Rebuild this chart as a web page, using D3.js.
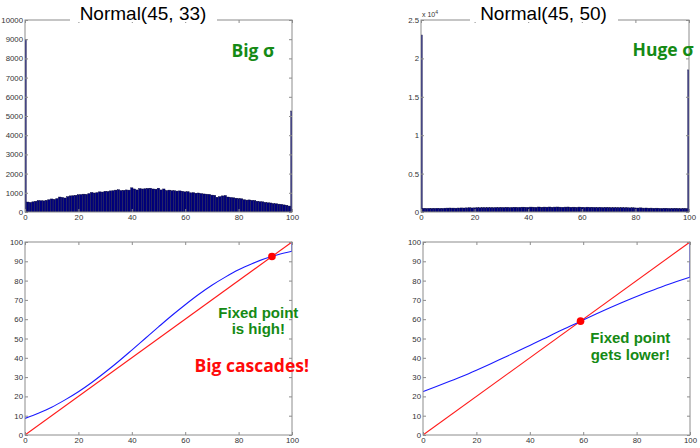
<!DOCTYPE html>
<html>
<head>
<meta charset="utf-8">
<script src="https://cdn.jsdelivr.net/npm/d3@7"></script>
<style>
  html, body { margin: 0; padding: 0; background: #fff; }
  svg { display: block; }
</style>
</head>
<body>
<svg id="chart" width="700" height="448"></svg>
<script>
// ---------------- data ----------------
const binCenters = d3.range(0, 101);           // histogram bins 0..100
const histLeft = [9000,
  520,500,530,560,600,590,580,610,640,680,
  660,700,780,760,730,800,840,850,870,900,
  910,930,920,960,1020,990,1010,1050,1040,1080,
  1070,1100,1110,1140,1160,1120,1130,1150,1140,1260,
  1200,1150,1220,1200,1210,1230,1240,1200,1190,1240,
  1150,1200,1120,1140,1110,1110,1090,1100,1080,1050,
  1060,1000,1010,980,990,960,940,930,920,880,
  870,770,800,840,860,780,760,740,720,700,
  690,640,620,630,610,600,560,540,530,500,
  480,470,440,430,410,400,370,350,310,
  5260];
const histRight = [23050,
  480,470,480,470,480,490,470,480,500,510,
  520,510,500,520,530,520,540,560,530,540,
  560,550,570,560,580,570,560,590,580,600,
  590,610,580,600,620,600,610,630,620,600,
  640,630,610,650,620,640,630,650,620,640,
  650,630,620,640,650,620,630,610,640,620,
  600,630,610,620,600,590,610,580,600,590,
  570,580,570,560,580,550,560,540,550,530,
  520,540,510,520,500,510,490,500,480,470,
  490,480,460,470,480,460,450,470,460,
  18500];
const curveX = d3.range(0, 101, 5);
const curveLeft  = [8.6,11.3,14.4,18.2,22.4,27.2,32.5,38.1,44.0,50.0,56.0,61.9,67.5,72.8,77.6,81.8,85.6,88.7,91.4,93.5,95.2];
const curveRight = [22.5,25.1,27.8,30.6,33.6,36.7,39.9,43.1,46.4,49.7,53.1,56.3,59.6,62.8,65.9,68.9,71.8,74.5,77.1,79.5,81.8];
const diagonal = [[0, 0], [100, 100]];
const fixedLeft = [92.5, 92.5];
const fixedRight = [59, 59];
const xTicks = [0, 20, 40, 60, 80, 100];
const yTicksHistLeft = d3.range(0, 10001, 1000);
const yTicksHistRight = [0, 5000, 10000, 15000, 20000, 25000];
const yTickLabelsHistRight = ["0", "0.5", "1", "1.5", "2", "2.5"];
const yTicksCurve = d3.range(0, 101, 10);
const titles = ["Normal(45, 33)", "Normal(45, 50)"];

// ---------------- drawing ----------------
const svg = d3.select("#chart");
const BOX = "#8c8c8c";
const LABEL = "#333";
const TICKFONT = "Liberation Sans, Arial, sans-serif";

let clipId = 0;
function panel(o) {
  const g = svg.append("g");
  const x = d3.scaleLinear().domain([0, 100]).range([o.left, o.right]);
  const y = d3.scaleLinear().domain(o.yDomain).range([o.bottom, o.top]);
  const id = "clip" + (clipId++);
  svg.append("clipPath").attr("id", id).append("rect")
    .attr("x", o.left).attr("y", o.top - 1)
    .attr("width", o.right - o.left).attr("height", o.bottom - o.top + 1);
  const content = g.append("g").attr("clip-path", `url(#${id})`);
  g.append("rect").attr("x", o.left).attr("y", o.top)
    .attr("width", o.right - o.left).attr("height", o.bottom - o.top)
    .attr("fill", "none").attr("stroke", BOX).attr("stroke-width", 1);

  const styleAxis = (sel) => {
    sel.select(".domain").remove();
    sel.selectAll(".tick line").attr("stroke", BOX);
    sel.selectAll(".tick text").attr("fill", LABEL)
      .style("font-family", TICKFONT).style("font-size", "7.8px");
  };
  g.append("g").attr("transform", `translate(0,${o.bottom})`)
    .call(d3.axisBottom(x).tickValues(xTicks).tickSizeInner(-3).tickSizeOuter(0).tickPadding(2))
    .call(styleAxis);
  g.append("g").attr("transform", `translate(0,${o.top})`)
    .call(d3.axisTop(x).tickValues(xTicks).tickSizeInner(-3).tickSizeOuter(0).tickFormat(""))
    .call(styleAxis);
  const la = d3.axisLeft(y).tickValues(o.yTicks).tickSizeInner(-3).tickSizeOuter(0).tickPadding(2)
    .tickFormat(o.yFormat || d3.format("d"));
  g.append("g").attr("transform", `translate(${o.left},0)`).call(la).call(styleAxis);
  g.append("g").attr("transform", `translate(${o.right},0)`)
    .call(d3.axisRight(y).tickValues(o.yTicks).tickSizeInner(-3).tickSizeOuter(0).tickFormat(""))
    .call(styleAxis);
  return { g, content, x, y };
}

function title(o, text, cx, gapL, gapR) {
  svg.append("rect").attr("x", gapL).attr("y", o.top - 2).attr("width", gapR - gapL)
    .attr("height", 4).attr("fill", "#fff");
  svg.append("text").attr("x", cx).attr("y", 19.5).attr("text-anchor", "middle")
    .style("font-family", "Liberation Sans, Arial, sans-serif").style("font-size", "19px")
    .attr("fill", "#000").text(text);
}

function histogram(p, values) {
  p.content.selectAll("rect.bar").data(binCenters).join("rect")
    .attr("class", "bar")
    .attr("x", d => p.x(d - 0.45))
    .attr("width", d => p.x(d + 0.45) - p.x(d - 0.45))
    .attr("y", (d, i) => p.y(values[i]))
    .attr("height", (d, i) => p.y(0) - p.y(values[i]))
    .attr("fill", "#00007e").attr("stroke", "#000033").attr("stroke-width", 0.4);
}

function curves(p, vals, fixed) {
  const line = d3.line().x(d => p.x(d[0])).y(d => p.y(d[1]));
  p.content.append("path").datum(diagonal).attr("d", line)
    .attr("fill", "none").attr("stroke", "#ff1a1a").attr("stroke-width", 1.1);
  const pts = curveX.map((xv, i) => [xv, vals[i]]);
  const smooth = d3.line().x(d => p.x(d[0])).y(d => p.y(d[1])).curve(d3.curveMonotoneX);
  p.content.append("path").datum(pts).attr("d", smooth)
    .attr("fill", "none").attr("stroke", "#1a1aff").attr("stroke-width", 1.1);
  const last = pts[pts.length - 1];
  p.content.append("path").datum([last, [100, 100]]).attr("d", line)
    .attr("fill", "none").attr("stroke", "#1a1aff").attr("stroke-width", 1.1);
  p.g.append("circle").attr("cx", p.x(fixed[0])).attr("cy", p.y(fixed[1])).attr("r", 3.8)
    .attr("fill", "#ff0000");
}

function label(x, y, text, color, font, size, anchor) {
  svg.append("text").attr("x", x).attr("y", y).attr("text-anchor", anchor || "start")
    .style("font-family", font).style("font-size", size + "px").style("font-weight", "bold")
    .attr("fill", color).text(text);
}

// top-left histogram
const oTL = { left: 25, right: 292, top: 20, bottom: 212, yDomain: [0, 10000], yTicks: yTicksHistLeft };
const pTL = panel(oTL);
histogram(pTL, histLeft);
title(oTL, titles[0], 143, 70, 217);

// top-right histogram
const oTR = { left: 421, right: 689, top: 20, bottom: 212, yDomain: [0, 25000], yTicks: yTicksHistRight,
  yFormat: (d, i) => yTickLabelsHistRight[i] };
const pTR = panel(oTR);
histogram(pTR, histRight);
title(oTR, titles[1], 543.5, 470, 618);
const mult = svg.append("text").attr("x", 422).attr("y", 17)
  .style("font-family", TICKFONT).style("font-size", "7px").attr("fill", LABEL);
mult.append("tspan").text("x 10");
mult.append("tspan").attr("dy", -3).style("font-size", "5px").text("4");

// bottom-left curve
const oBL = { left: 25, right: 292, top: 242, bottom: 435, yDomain: [0, 100], yTicks: yTicksCurve };
const pBL = panel(oBL);
curves(pBL, curveLeft, fixedLeft);

// bottom-right curve
const oBR = { left: 423, right: 690, top: 242, bottom: 435, yDomain: [0, 100], yTicks: yTicksCurve };
const pBR = panel(oBR);
curves(pBR, curveRight, fixedRight);

// annotations
const GREEN = "#158a15";
const SANS = "Open Sans, Noto Sans, sans-serif";
const ARIALB = "Liberation Sans, Arial, sans-serif";
label(231.5, 57, "Big σ", GREEN, SANS, 17.5);
label(632.5, 56, "Huge σ", GREEN, SANS, 17.5);
label(258.3, 317.7, "Fixed point", GREEN, ARIALB, 15, "middle");
label(258.3, 334.3, "is high!", GREEN, ARIALB, 15, "middle");
label(251.7, 371.7, "Big cascades!", "#ff0a0a", SANS, 17.5, "middle");
label(630.3, 342.7, "Fixed point", GREEN, ARIALB, 15, "middle");
label(630.3, 359.5, "gets lower!", GREEN, ARIALB, 15, "middle");
</script>
</body>
</html>
